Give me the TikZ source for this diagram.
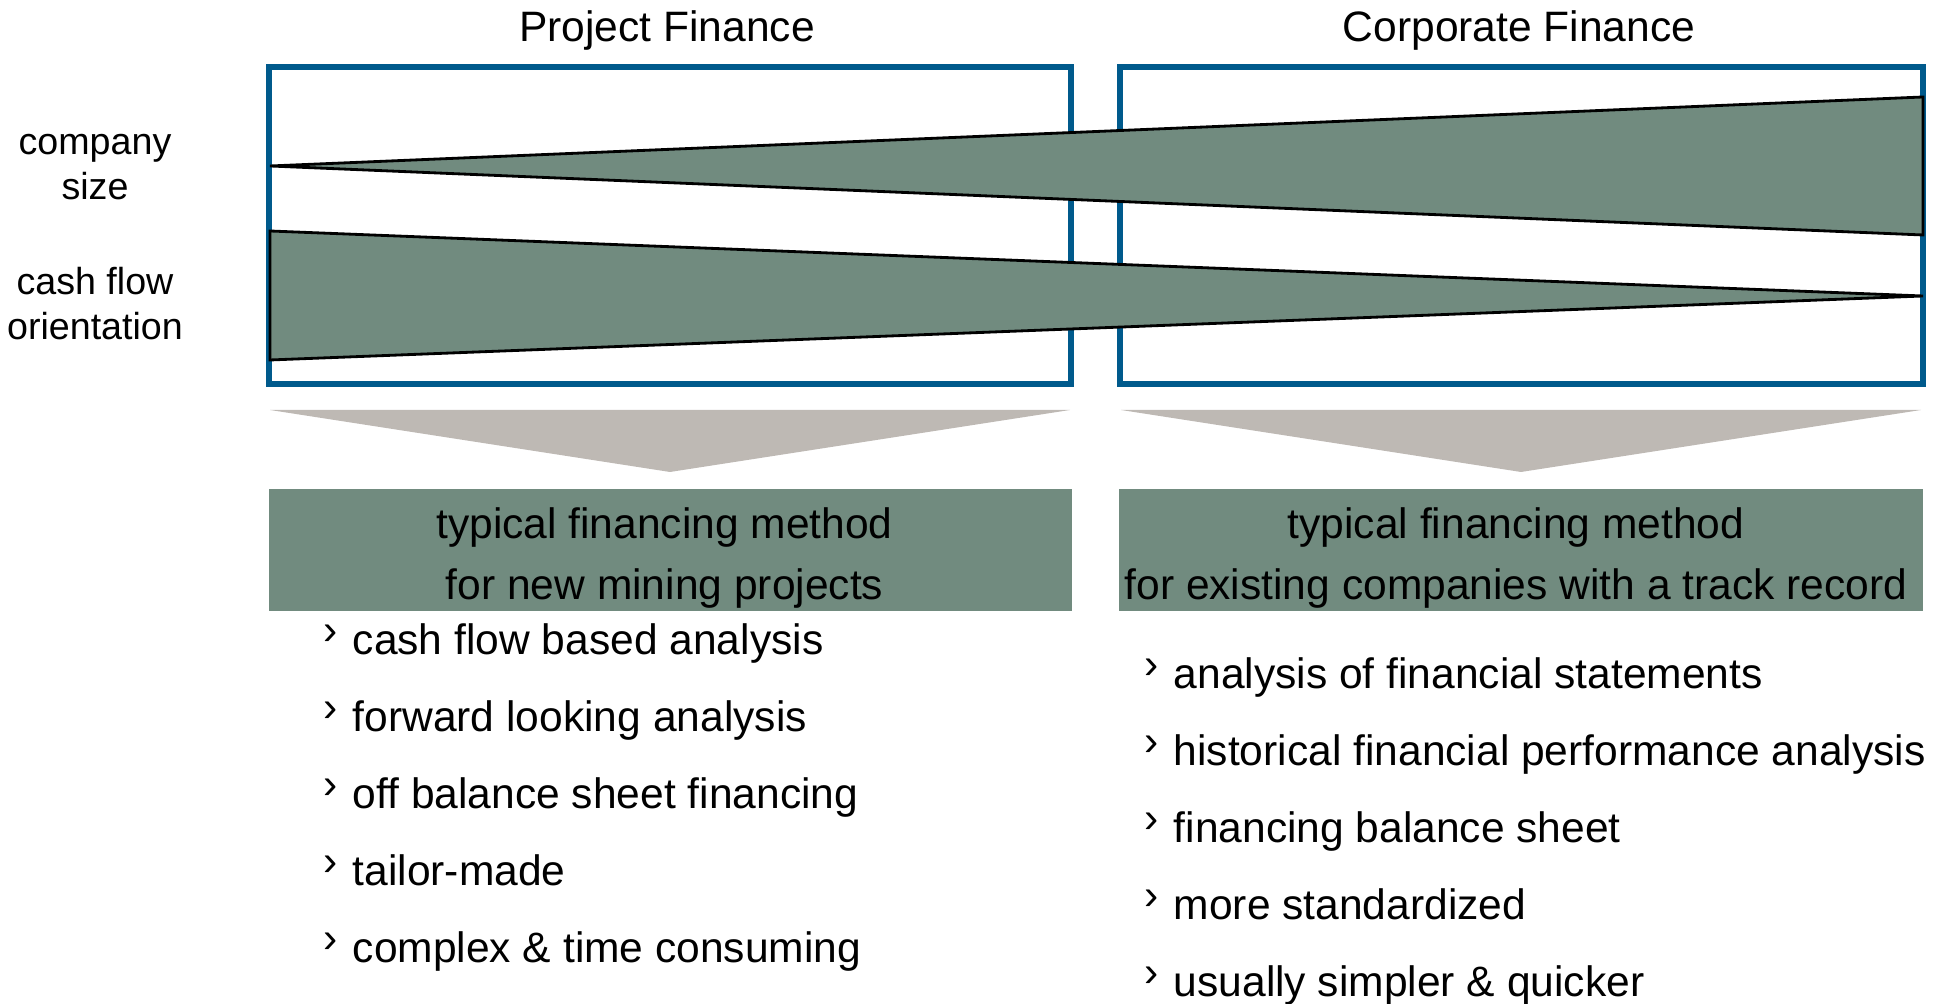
\documentclass[tikz,border=0pt]{standalone}
\usepackage{fontspec}
\setmainfont{Liberation Sans}
\usetikzlibrary{positioning}
\definecolor{pfblue}{RGB}{0,90,140}
\definecolor{pfgreen}{RGB}{113,139,127}
\definecolor{pfgrey}{RGB}{190,185,180}
\newcommand{\bul}{\raisebox{0.25em}{›}\hspace{0.35em}} % small raised chevron

\begin{document}
\begin{tikzpicture}[x=0.01cm, y=-0.01cm]

    % Styles for frames, wedges and text
    \tikzset{
      boxframe/.style={draw=pfblue, line width=1.7pt, minimum width=8.02cm, minimum height=3.17cm, inner sep=0pt},
      wedge/.style={fill=pfgreen, draw=black, line width=0.8pt},
      funnel/.style={fill=pfgrey},
      methodbox/.style={fill=pfgreen, minimum width=8.03cm, minimum height=1.21cm, inner sep=0pt},
      methodtext/.style={align=center, inner sep=0pt, font=\fontsize{12.1}{17.3}\selectfont},
      title/.style={font=\fontsize{12.1}{14}\selectfont, anchor=base},
      sidelabel/.style={font=\fontsize{10.7}{12.8}\selectfont, align=center},
      bullettext/.style={font=\fontsize{12.1}{14}\selectfont, anchor=base west, inner sep=0pt}
    }

    \useasboundingbox (0,0) rectangle (1941,1004);

    % Two frames with their titles
    \node[boxframe] (pf) at (670,225.5) {};
    \node[boxframe] (cf) at (1521.5,225.5) {};
    \node[title] (pftitle) at (667,42) {Project Finance};
    \node[title] (cftitle) at (1519,42) {Corporate Finance};

    % Row labels on the left
    \node[sidelabel] (sizelabel) at (95,167) {company\\size};
    \node[sidelabel] (cashlabel) at (95,304) {cash flow\\orientation};

    % Wedges, drawn over the frames
    \draw[wedge] (270,166) -- (1923,97) -- (1923,235) -- cycle;
    \draw[wedge] (270,231) -- (1923,296) -- (270,360) -- cycle;

    % Grey funnels below the frames
    \fill[funnel] (270,410) -- (1070,410) -- (670,472) -- cycle;
    \fill[funnel] (1121,410) -- (1921,410) -- (1521,472) -- cycle;

    % Method boxes, text set a little low and left
    \node[methodbox] (pfmethod) at (670.5,550) {};
    \node[methodbox] (cfmethod) at (1521,550) {};
    \node[methodtext, xshift=-0.06cm, yshift=-0.08cm] (pfmethodtext) at (pfmethod.center) {typical financing method\\for new mining projects};
    \node[methodtext, xshift=-0.05cm, yshift=-0.08cm] (cfmethodtext) at (cfmethod.center) {typical financing method\\for existing companies with a track record};

    % Project finance items
    \node[bullettext] (pfitema) at (323,655) {\bul cash flow based analysis};
    \node[bullettext] (pfitemb) at (323,732) {\bul forward looking analysis};
    \node[bullettext] (pfitemc) at (323,809) {\bul off balance sheet financing};
    \node[bullettext] (pfitemd) at (323,886) {\bul tailor-made};
    \node[bullettext] (pfiteme) at (323,963) {\bul complex \& time consuming};

    % Corporate finance items
    \node[bullettext] (cfitema) at (1144,689) {\bul analysis of financial statements};
    \node[bullettext] (cfitemb) at (1144,766) {\bul historical financial performance analysis};
    \node[bullettext] (cfitemc) at (1144,843) {\bul financing balance sheet};
    \node[bullettext] (cfitemd) at (1144,920) {\bul more standardized};
    \node[bullettext] (cfiteme) at (1144,997) {\bul usually simpler \& quicker};

\end{tikzpicture}
\end{document}
